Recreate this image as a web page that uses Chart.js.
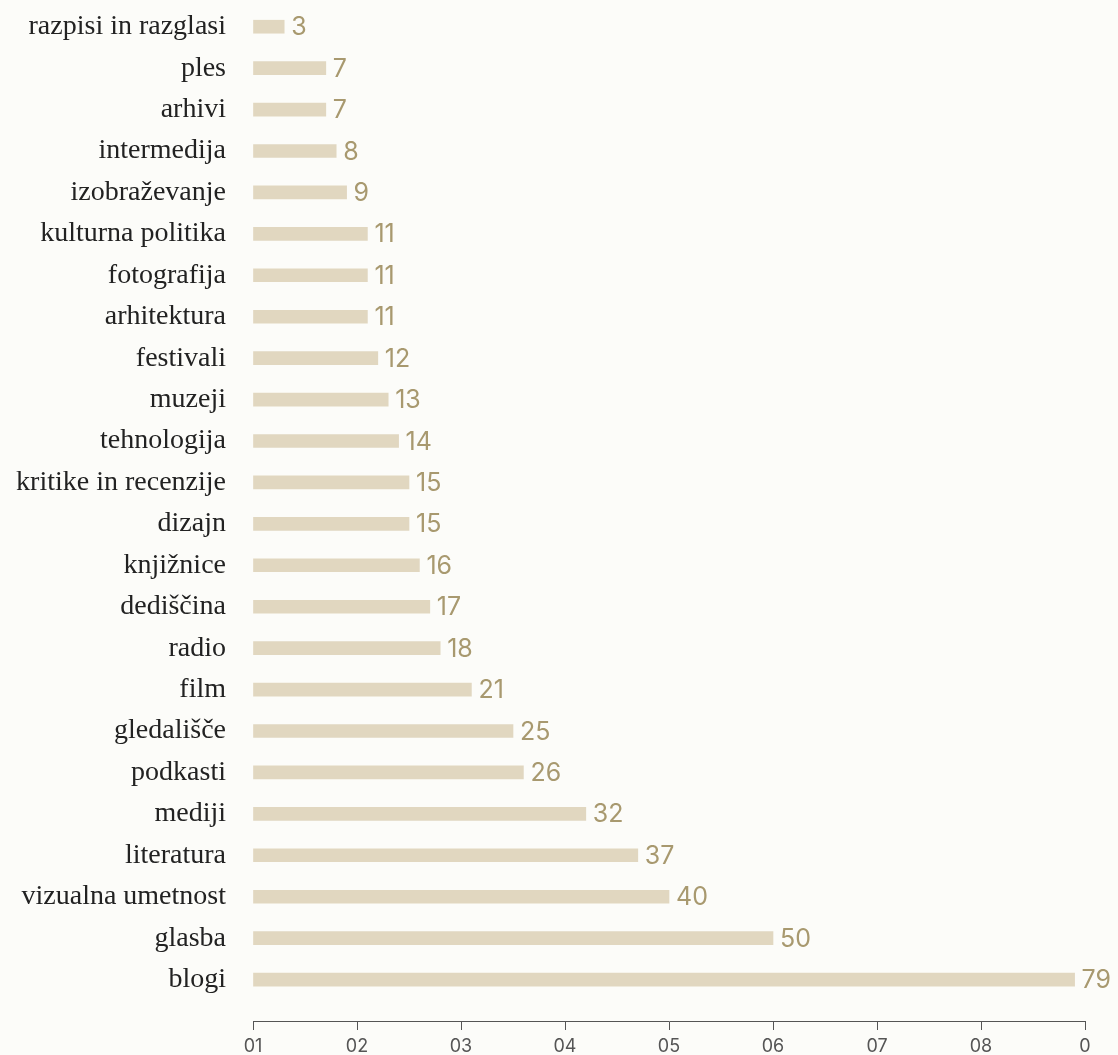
<!DOCTYPE html>
<html>
<head>
<meta charset="utf-8">
<script src="https://cdn.jsdelivr.net/npm/chart.js@4.4.1/dist/chart.umd.min.js"></script>
<style>
  html, body { margin: 0; padding: 0; background: #fcfcf9; }
  #wrap { width: 1118px; height: 1055px; position: relative; }
</style>
</head>
<body>
<div id="wrap"><canvas id="chart"></canvas></div>
<script>
// data
const categories = [
  'razpisi in razglasi', 'ples', 'arhivi', 'intermedija', 'izobraževanje',
  'kulturna politika', 'fotografija', 'arhitektura', 'festivali', 'muzeji',
  'tehnologija', 'kritike in recenzije', 'dizajn', 'knjižnice', 'dediščina',
  'radio', 'film', 'gledališče', 'podkasti', 'mediji', 'literatura',
  'vizualna umetnost', 'glasba', 'blogi'
];
const counts = [3, 7, 7, 8, 9, 11, 11, 11, 12, 13, 14, 15, 15, 16, 17, 18, 21, 25, 26, 32, 37, 40, 50, 79];
const xTickLabels = ['01', '02', '03', '04', '05', '06', '07', '08', '0'];

const BAR = '#e1d7c0';
const VALUE = '#a8996f';
const AXIS = '#555';

// value labels at the end of each bar
const valueLabels = {
  id: 'valueLabels',
  afterDatasetsDraw(chart){
    const ctx = chart.ctx;
    const meta = chart.getDatasetMeta(0);
    ctx.save();
    ctx.font = '25px Inter, "Noto Sans", sans-serif';
    ctx.fillStyle = VALUE;
    ctx.textAlign = 'left';
    ctx.textBaseline = 'middle';
    meta.data.forEach((bar, i) => {
      ctx.fillText(String(counts[i]), bar.x + 7, bar.y + 1);
    });
    ctx.restore();
  }
};

new Chart(document.getElementById('chart'), {
  type: 'bar',
  data: {
    labels: categories,
    datasets: [{
      data: counts,
      backgroundColor: BAR,
      borderWidth: 0,
      barThickness: 13
    }]
  },
  options: {
    indexAxis: 'y',
    responsive: true,
    maintainAspectRatio: false,
    animation: false,
    layout: { padding: { top: 6, right: 33, left: 0, bottom: 0 } },
    plugins: { legend: { display: false }, tooltip: { enabled: false } },
    scales: {
      y: {
        offset: true,
        grid: { display: false, drawTicks: false },
        border: { display: false },
        ticks: {
          padding: 27,
          color: '#222',
          font: { family: '"Liberation Serif", "DejaVu Serif", serif', size: 28 }
        },
        // leave half a row of space above the x axis
        afterBuildTicks: s => { s._valueRange += 0.5; },
        afterFit: s => { s.width = 253; s.paddingTop = 0; s.paddingBottom = 0; }
      },
      x: {
        min: 0,
        max: 80,
        grid: { display: true, drawOnChartArea: false, drawTicks: true, tickLength: 9, color: AXIS },
        border: { display: true, color: AXIS, width: 1 },
        ticks: {
          stepSize: 10,
          padding: 6,
          color: AXIS,
          font: { family: 'Inter, "Noto Sans", sans-serif', size: 18 },
          callback: (v, i) => xTickLabels[i]
        },
        afterFit: s => { s.height = 34; }
      }
    }
  },
  plugins: [valueLabels]
});
</script>
</body>
</html>
